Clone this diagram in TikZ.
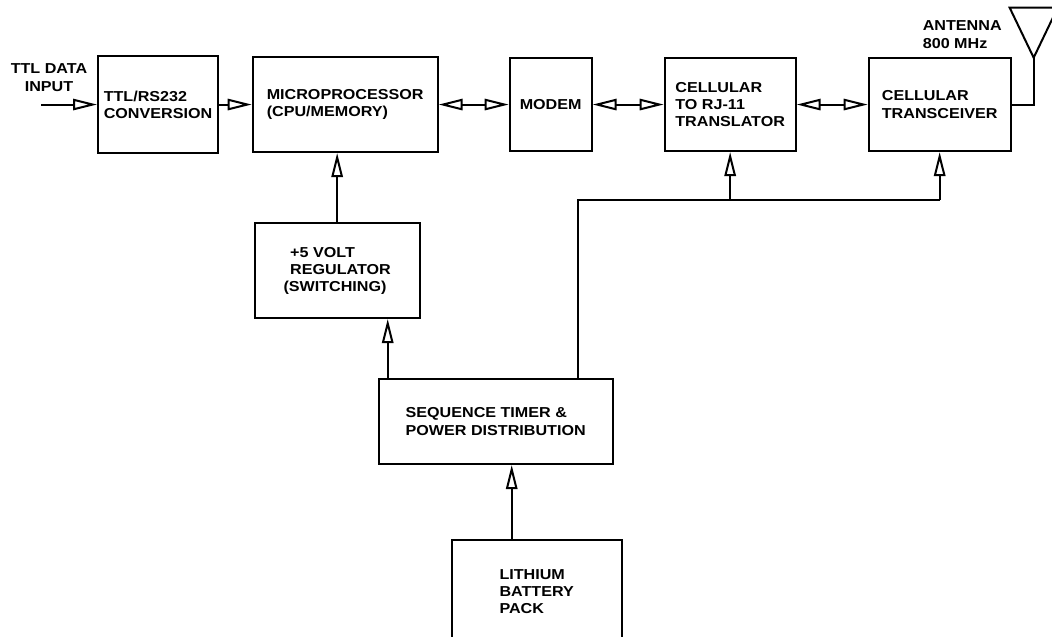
\documentclass[tikz,border=0pt]{standalone}
\usepackage{fontspec}
\setmainfont{Liberation Sans}[FakeStretch=1.12]
\usetikzlibrary{arrows.meta,positioning}

\tikzset{
  arr/.style={-{Triangle[open,length=18pt,width=8.5pt]}},
  darr/.style={{Triangle[open,length=18pt,width=8.5pt]}-{Triangle[open,length=18pt,width=8.5pt]}},
  lbl/.style={inner sep=0pt, font=\fontsize{10.8}{13.5}\selectfont\bfseries}
}

\begin{document}
\begin{tikzpicture}[line width=1.5pt]
      \clip (0,0) rectangle (789pt,-477pt);
      \begin{scope}[every node/.style={draw,align=left,inner sep=2pt,
          font=\fontsize{10.8}{12.8}\selectfont\bfseries}]
        \node (ttl) [minimum width=90pt, minimum height=72.75pt] at (118.5pt,-78.4pt) {TTL/RS232\\CONVERSION};
        \node (micro) [minimum width=138.75pt, minimum height=71.25pt] [right=24.5pt of ttl] {MICROPROCESSOR\\(CPU/MEMORY)};
        \node (modem) [minimum width=61.5pt, minimum height=69.75pt] [right=52.5pt of micro] {MODEM};
        \node (cell) [minimum width=98.25pt, minimum height=69.75pt] [right=53.25pt of modem] {CELLULAR\\TO RJ-11\\TRANSLATOR};
        \node (trans) [minimum width=106.5pt, minimum height=69.75pt] [right=53.25pt of cell] {CELLULAR\\TRANSCEIVER};
        \node (reg) [minimum width=123.75pt, minimum height=71.25pt] [below=51.75pt of micro, xshift=-6pt] {\hspace*{5pt}+5 VOLT\\\hspace*{5pt}REGULATOR\\(SWITCHING)};
        \node (seq) [minimum width=175.5pt, minimum height=63.75pt] [below=44.25pt of reg, xshift=118.9pt] {SEQUENCE TIMER \&\\POWER DISTRIBUTION};
        \node (batt) [minimum width=127.5pt, minimum height=78pt] [below=55.5pt of seq, xshift=30.75pt] {LITHIUM\\BATTERY\\PACK};
      \end{scope}
      % input and antenna
      \coordinate (in) at ([xshift=-42pt]ttl.west);
      \node (inlbl) [lbl, align=center, above=9pt of in, xshift=6pt] {TTL DATA\\INPUT};
      \coordinate (ant) at ([xshift=16.5pt, yshift=-0.5pt]trans.north east);
      \node (antlbl) [lbl, align=left, above left=6pt and 23.25pt of ant] {ANTENNA\\800 MHz};
      \draw (trans.east) -| (ant);
      \draw (ant) -- ++(-18pt,37.5pt) -- ++(36pt,0pt) -- cycle;
      % data path
      \begin{scope}[every edge/.style={draw}]
        \path (in) edge[arr] (ttl.west);
        \path (ttl) edge[arr] (micro);
        \path (micro) edge[darr] (modem);
        \path (modem) edge[darr] (cell);
        \path (cell) edge[darr] (trans);
      \end{scope}
      % power
      \draw[arr] (reg.north) -- (reg.north |- micro.south);
      \coordinate (r1) at ([xshift=7.5pt]seq.north west);
      \draw[arr] (r1) -- (r1 |- reg.south);
      \coordinate (b1) at ([xshift=-18.75pt]batt.north);
      \draw[arr] (b1) -- (b1 |- seq.south);
      \coordinate (bus) at ([xshift=-27pt]seq.north east);
      \coordinate (tap) at ([yshift=-36pt]cell.south);
      \draw (bus) |- (tap -| trans.south);
      \draw[arr] (tap) -- (cell.south);
      \draw[arr] (tap -| trans.south) -- (trans.south);
\end{tikzpicture}
\end{document}
